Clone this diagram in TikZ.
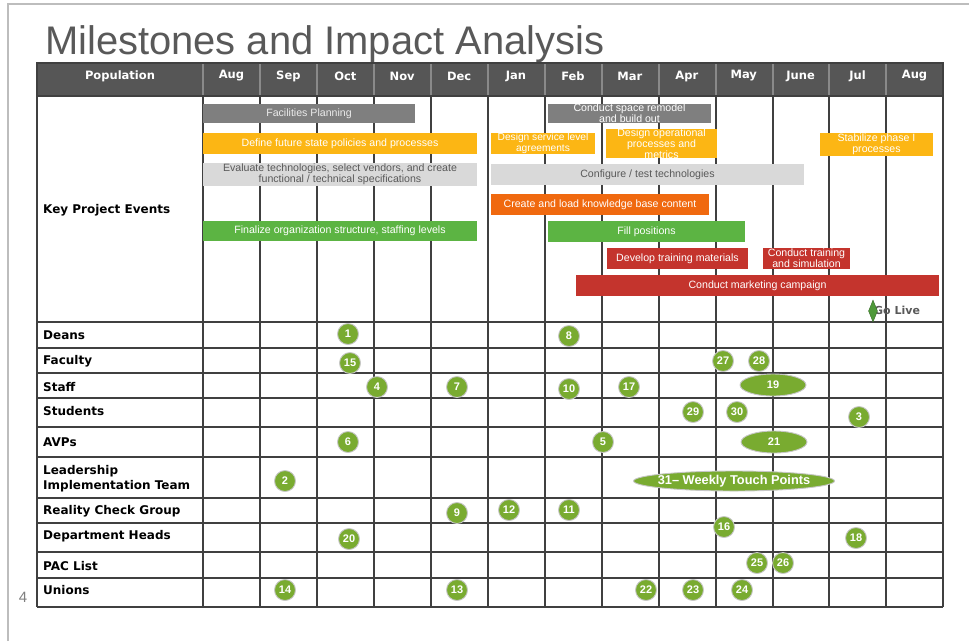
\documentclass[tikz,border=0pt]{standalone}
\usepackage{fontspec}
\setmainfont{Liberation Sans}
\newfontfamily\verd{DejaVu Sans}
\usetikzlibrary{shapes.geometric}
\definecolor{hdr}{HTML}{565656}
\definecolor{gridc}{HTML}{404040}
\definecolor{hdrline}{HTML}{8A8A8A}
\definecolor{frame}{HTML}{BDBDBD}
\definecolor{titlec}{HTML}{595959}
\definecolor{bgray}{HTML}{7F7F7F}
\definecolor{borange}{HTML}{FCB614}
\definecolor{blight}{HTML}{D9D9D9}
\definecolor{bgreen}{HTML}{5CB443}
\definecolor{bor}{HTML}{F0690F}
\definecolor{bred}{HTML}{C4342D}
\definecolor{mgreen}{HTML}{79AB30}
\begin{document}
\begin{tikzpicture}[x=1pt,y=-1pt,
  barbox/.style={rectangle, inner sep=0, align=center, text=white,
    font=\fontsize{10.6}{10.8}\selectfont},
  ms/.style={circle, fill=mgreen, draw=black!22, line width=0.9pt,
    minimum size=21pt, inner sep=0, text=white,
    font=\fontsize{11}{11}\selectfont\bfseries},
  msl/.style={ms, ellipse, minimum width=66pt, minimum height=22pt},
  rowlab/.style={anchor=west, inner sep=0, align=left,
    font=\verd\bfseries\fontsize{12}{15}\selectfont},
  monthlab/.style={inner sep=0, text=white,
    font=\verd\bfseries\fontsize{11.5}{12}\selectfont},
  gline/.style={draw=gridc, line width=1.3pt},
]
\useasboundingbox (0,0) rectangle (969,641);
% page frame
\draw[frame, line width=2.5pt] (8,641) -- (8,4) -- (969,4);
% title
\node[anchor=base west, inner sep=0, text=titlec,
  font=\fontsize{39.9}{40}\selectfont] (title) at (45,54) {Milestones and Impact Analysis};
% page number
\node[inner sep=0, text=bgray, font=\fontsize{15}{15}\selectfont] (pnum) at (23,597) {4};
% header
\fill[hdr] (37,63) rectangle (943,96);
\foreach \x in {203,260,317,374,431,488,545,602,659,716,773,829,886}
  \draw[hdrline, line width=1.3pt] (\x,63) -- (\x,96);
\foreach \x in {37,203,260,317,374,431,488,545,602,659,716,773,829,886,943}
  \draw[gline] (\x,96) -- (\x,607);
\foreach \y in {322,348,373,398,427,457,498,523,552,578,607}
  \draw[gline] (37,\y) -- (943,\y);
\draw[gline] (37,63) rectangle (943,96);
\node[monthlab] (hpop) at (120,76) {Population};
\foreach \m [count=\i] in {Aug,Sep,Oct,Nov,Dec,Jan,Feb,Mar,Apr,May,June,Jul,Aug}
  \node[monthlab] (m\i) at ({203+56.92*(\i-1)+28.46},76) {\m};
% row labels
\node[rowlab] (rkpe) at (43,210) {Key Project Events};
\node[rowlab] (rdeans) at (43,335) {Deans};
\node[rowlab] (rfac) at (43,361) {Faculty};
\node[rowlab] (rstaff) at (43,387) {Staff};
\node[rowlab] (rstud) at (43,411) {Students};
\node[rowlab] (ravp) at (43,442) {AVPs};
\node[rowlab] (rlit) at (43,478.5) {Leadership\\Implementation Team};
\node[rowlab] (rrcg) at (43,511) {Reality Check Group};
\node[rowlab] (rdh) at (43,536) {Department Heads};
\node[rowlab] (rpac) at (43,566) {PAC List};
\node[rowlab] (runi) at (43,590) {Unions};
% bars
\node[barbox, fill=bgray, text=black!8, minimum width=212pt, minimum height=19pt] (bfac) at (309,113.5) {Facilities Planning};
\node[barbox, fill=borange, minimum width=274pt, minimum height=21pt] (bdef) at (340,143.5) {Define future state policies and processes};
\node[barbox, fill=blight, text=titlec, minimum width=274pt, minimum height=23pt] (beval) at (340,174.5) {Evaluate technologies, select vendors, and create\\functional / technical specifications};
\node[barbox, fill=bgreen, minimum width=274pt, minimum height=20pt] (bfin) at (340,231) {Finalize organization structure, staffing levels};
\node[barbox, fill=bgray, minimum width=163pt, minimum height=19pt] (bspace) at (629.5,113.5) {Conduct space remodel\\and build out};
\node[barbox, fill=borange, minimum width=104pt, minimum height=21pt, font=\fontsize{10.2}{10.8}\selectfont] (bdsla) at (543,143.5) {Design service level\\agreements};
\node[barbox, fill=borange, minimum width=111pt, minimum height=21pt] (bdop) at (661.5,143.5) {Design operational\\processes and\\metrics};
\node[barbox, fill=borange, minimum width=113pt, minimum height=23pt] (bstab) at (876.5,144.5) {Stabilize phase I\\processes};
\node[barbox, fill=blight, text=titlec, minimum width=313pt, minimum height=21pt] (bconf) at (647.5,174.5) {Configure / test technologies};
\node[barbox, fill=bor, minimum width=218pt, minimum height=21pt] (bknow) at (600,204.5) {Create and load knowledge base content};
\node[barbox, fill=bgreen, minimum width=197pt, minimum height=21pt] (bfill) at (646.5,231.5) {Fill positions};
\node[barbox, fill=bred, minimum width=141pt, minimum height=21pt] (bdev) at (677.5,258.5) {Develop training materials};
\node[barbox, fill=bred, minimum width=87pt, minimum height=21pt] (bctr) at (806.5,258.5) {Conduct training\\and simulation};
\node[barbox, fill=bred, minimum width=363pt, minimum height=21pt] (bmkt) at (757.5,285.5) {Conduct marketing campaign};
% go live
\node[anchor=west, inner sep=0, text=titlec, font=\verd\bfseries\fontsize{11}{11}\selectfont] (golive) at (874,310) {Go Live};
\node[diamond, fill=bgreen!85!black, draw=bgreen!60!black, line width=0.4pt, inner sep=0, minimum width=9pt, minimum height=22pt] (gld) at (873,311) {};
% milestones
\node[ms] (c1) at (348,334) {1};
\node[ms] (c8) at (569,336) {8};
\node[ms] (c15) at (350,363) {15};
\node[ms] (c27) at (723,361) {27};
\node[ms] (c28) at (759,361) {28};
\node[ms] (c4) at (377,387) {4};
\node[ms] (c7) at (457,387) {7};
\node[ms] (c10) at (569,389) {10};
\node[ms] (c17) at (629,387) {17};
\node[msl] (c19) at (773,385) {19};
\node[ms] (c29) at (693,412) {29};
\node[ms] (c30) at (737,412) {30};
\node[ms] (c3) at (859,417) {3};
\node[ms] (c6) at (348,442) {6};
\node[ms] (c5) at (603,442) {5};
\node[msl] (c21) at (774,442) {21};
\node[ms] (c2) at (285,481) {2};
\node[msl, inner xsep=-40pt, inner ysep=-4pt, minimum width=201pt, minimum height=20pt, font=\fontsize{12.8}{13}\selectfont\bfseries] (c31) at (734,481) {31-- Weekly Touch Points};
\node[ms] (c9) at (457,513) {9};
\node[ms] (c12) at (509,510) {12};
\node[ms] (c11) at (569,510) {11};
\node[ms] (c20) at (349,539) {20};
\node[ms] (c16) at (724,527) {16};
\node[ms] (c18) at (856,538) {18};
\node[ms] (c25) at (757,563) {25};
\node[ms] (c26) at (783,563) {26};
\node[ms] (c14) at (285,590) {14};
\node[ms] (c13) at (457,590) {13};
\node[ms] (c22) at (646,590) {22};
\node[ms] (c23) at (693,590) {23};
\node[ms] (c24) at (742,590) {24};
\end{tikzpicture}
\end{document}
